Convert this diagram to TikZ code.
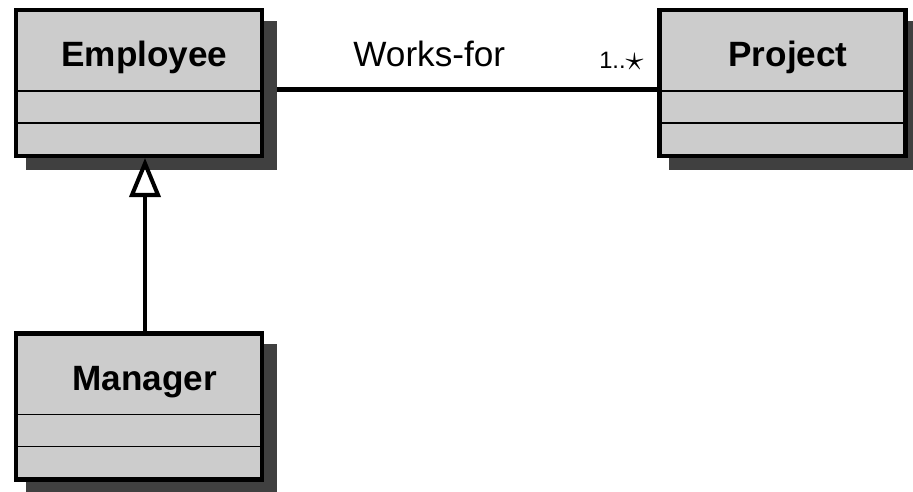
\documentclass[tikz,border=0pt]{standalone}
\usepackage{fontspec}
\setmainfont{Liberation Sans}
\usetikzlibrary{arrows.meta,calc,shadows,backgrounds}
\definecolor{umlfill}{RGB}{204,204,204}
\definecolor{umlshade}{RGB}{64,64,64}
\begin{document}
\begin{tikzpicture}[
  umlclass/.style={draw=black, line width=2.3pt, fill=umlfill, inner sep=0pt, minimum width=4.92cm, minimum height=2.92cm,
    drop shadow={shadow xshift=0.24cm, shadow yshift=-0.24cm, shadow scale=1.02, fill=umlshade, opacity=1}},
  clsname/.style={anchor=base, font=\fontsize{20}{24}\selectfont\bfseries},
  divider/.style={draw=black, line width=1.1pt},
  assoc/.style={draw=black, line width=2.4pt},
  inherit/.style={draw=black, line width=2.3pt, -{Triangle[open, length=0.78cm, width=0.62cm]}}
]
\useasboundingbox (0,0) rectangle (18.26,9.84);
\node[umlclass] (emp) at (2.78,8.18) {};
\node[umlclass] (prj) at (15.65,8.18) {};
\node[umlclass] (mgr) at (2.78,1.71) {};
\node[clsname] (empname) at ($(emp.north)+(0.11,-1.18)$) {Employee};
\node[clsname] (prjname) at ($(prj.north)+(0.11,-1.18)$) {Project};
\node[clsname] (mgrname) at ($(mgr.north)+(0.11,-1.18)$) {Manager};
\draw[divider] ($(emp.north west)+(0,-1.66)$) -- ($(emp.north east)+(0,-1.66)$);
\draw[divider] ($(emp.north west)+(0,-2.30)$) -- ($(emp.north east)+(0,-2.30)$);
\draw[divider] ($(prj.north west)+(0,-1.66)$) -- ($(prj.north east)+(0,-1.66)$);
\draw[divider] ($(prj.north west)+(0,-2.30)$) -- ($(prj.north east)+(0,-2.30)$);
\draw[divider] ($(mgr.north west)+(0,-1.66)$) -- ($(mgr.north east)+(0,-1.66)$);
\draw[divider] ($(mgr.north west)+(0,-2.30)$) -- ($(mgr.north east)+(0,-2.30)$);
\begin{scope}[on background layer]
\draw[assoc] ([yshift=-0.13cm]emp.east) -- ([yshift=-0.13cm]prj.west)
  node[pos=0.42, anchor=base, yshift=0.45cm, font=\fontsize{20}{24}\selectfont] (worksfor) {Works-for}
  node[pos=1, anchor=base east, xshift=-0.12cm, yshift=0.41cm, font=\fontsize{13.5}{16}\selectfont] (mult) {1..\raisebox{-0.6pt}{\fontsize{21}{22}\selectfont$\star$}};
\end{scope}
\draw[inherit] ([xshift=0.12cm]mgr.north) -- ([xshift=0.12cm]emp.south);
\end{tikzpicture}
\end{document}
